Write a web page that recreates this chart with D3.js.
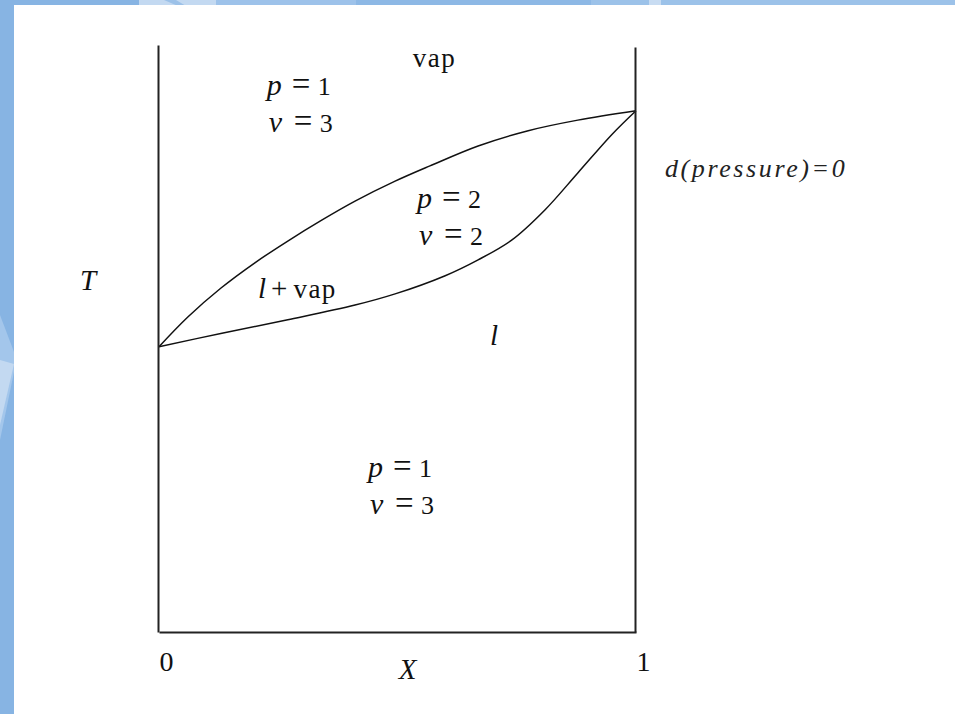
<!DOCTYPE html>
<html>
  <head>
    <meta charset="utf-8">
    <title>T-X phase diagram</title>
    <script type="text/javascript" src="https://d3js.org/d3.v7.min.js"></script>
    <style>
      body { margin: 0; background: #87b4e3; }
      svg { display: block; }
    </style>
  </head>
  <body>

    <div class="vis"></div>

    <script type="text/javascript">

      // composition ticks
      var xTicks = [0, 1];

      // vapour (upper) boundary: composition X, temperature T (0..1 of the axis)
      var vapX = [0, 0.061, 0.130, 0.201, 0.270, 0.342, 0.411, 0.495, 0.568, 0.669, 0.774, 0.878, 1];
      var vapT = [0.486, 0.537, 0.586, 0.629, 0.666, 0.702, 0.734, 0.768, 0.794, 0.828, 0.854, 0.872, 0.888];

      // liquid (lower) boundary
      var liqX = [0, 0.132, 0.270, 0.411, 0.495, 0.600, 0.669, 0.740, 0.809, 0.878, 0.950, 1];
      var liqT = [0.486, 0.509, 0.532, 0.557, 0.576, 0.607, 0.634, 0.668, 0.719, 0.782, 0.848, 0.888];

      // region labels (phases p, variance v)
      var regionNames = ['p', 'ν'];
      var regionX = [0.226, 0.541, 0.438];
      var regionT = [0.915, 0.722, 0.264];
      var regionP = ['1', '2', '1'];
      var regionV = ['3', '2', '3'];

      var w = 955;
      var h = 714;
      var margin = {top: 45, right: 319, bottom: 82, left: 159};
      var serif = "'Liberation Serif', 'Times New Roman', serif";

      var svg = d3.select('.vis')
        .append('svg')
        .attr('width', w)
        .attr('height', h);

      // slide background
      svg.append('rect').attr('width', w).attr('height', h).attr('fill', '#87b4e3');
      svg.append('rect').attr('x', 139).attr('y', 0).attr('width', 77).attr('height', 6).attr('fill', '#c3d9f1');
      svg.append('rect').attr('x', 216).attr('y', 0).attr('width', 140).attr('height', 6).attr('fill', '#9dc2ea');
      svg.append('rect').attr('x', 356).attr('y', 0).attr('width', 235).attr('height', 6).attr('fill', '#8db8e5');
      svg.append('rect').attr('x', 591).attr('y', 0).attr('width', 364).attr('height', 6).attr('fill', '#9cc2e9');
      svg.append('rect').attr('x', 649).attr('y', 0).attr('width', 12).attr('height', 6).attr('fill', '#c8dcf2');
      svg.append('polygon').attr('points', '164,0 176,0 186,6 178,6').attr('fill', '#9cc1e8');
      svg.append('polygon').attr('points', '0,315 14,352 14,372 0,440').attr('fill', '#a3c6eb');
      svg.append('polygon').attr('points', '0,360 14,364 0,425').attr('fill', '#c3d9f1');
      svg.append('rect').attr('x', 14).attr('y', 5).attr('width', w - 14).attr('height', h - 5).attr('fill', '#fff');

      var xscale = d3.scaleLinear()
        .domain([0, 1])
        .range([margin.left, w - margin.right]);

      var yscale = d3.scaleLinear()
        .domain([0, 1])
        .range([h - margin.bottom, margin.top]);

      var line = d3.line()
        .x(function(d){ return xscale(d[0]); })
        .y(function(d){ return yscale(d[1]); })
        .curve(d3.curveCatmullRom);

      var vapour = vapX.map(function(x, i){ return [x, vapT[i]]; });
      var liquid = liqX.map(function(x, i){ return [x, liqT[i]]; });

      svg.selectAll('path.phase')
        .data([vapour, liquid])
        .enter()
        .append('path')
        .attr('class', 'phase')
        .attr('d', line)
        .attr('fill', 'none')
        .attr('stroke', '#111')
        .attr('stroke-width', 1.5);

      // frame: left, right and bottom axes
      var yAxis = d3.axisLeft(yscale).tickValues([]).tickSizeOuter(0);
      var yAxisR = d3.axisRight(yscale.copy().range([h - margin.bottom, margin.top + 2])).tickValues([]).tickSizeOuter(0);
      var xAxis = d3.axisBottom(xscale).tickValues(xTicks).tickSize(0).tickSizeOuter(0).tickPadding(18)
        .tickFormat(d3.format('d'));

      svg.append('g')
        .attr('class', 'y axis')
        .attr('transform', 'translate(' + (margin.left - 1) + ',0)')
        .call(yAxis);

      svg.append('g')
        .attr('class', 'y axis')
        .attr('transform', 'translate(' + (w - margin.right - 1) + ',0)')
        .call(yAxisR);

      var gx = svg.append('g')
        .attr('class', 'x axis')
        .attr('transform', 'translate(0,' + (h - margin.bottom) + ')')
        .call(xAxis);

      svg.selectAll('.axis path').attr('stroke', '#222').attr('stroke-width', 2);
      gx.selectAll('text')
        .attr('text-anchor', 'start')
        .attr('dy', '0.75em')
        .style('font-family', serif)
        .style('font-size', '28px')
        .style('fill', '#111');

      // all text goes through this so the serif face is set inline
      function label(x, y, size, italic) {
        return svg.append('text')
          .attr('x', x)
          .attr('y', y)
          .style('font-family', serif)
          .style('font-size', size + 'px')
          .style('font-style', italic ? 'italic' : 'normal')
          .style('fill', '#111');
      }

      // region labels
      function eqLabel(x0, y0, name, val) {
        label(x0, y0, 30, true).text(name);
        label(x0 + 25, y0, 33, false).text('=');
        label(x0 + 51, y0, 26, false).text(val);
      }

      for (var i = 0; i < regionX.length; i++) {
        var px = xscale(regionX[i]);
        var py = yscale(regionT[i]);
        eqLabel(px, py, regionNames[0], regionP[i]);
        eqLabel(px + 2, py + 37, regionNames[1], regionV[i]);
      }

      label(xscale(0.532), yscale(0.9625), 27, false)
        .style('letter-spacing', '1.5px')
        .text('vap');

      var lv = label(xscale(0.2075), yscale(0.569), 27, false);
      lv.append('tspan').style('font-style', 'italic').style('font-size', '29px').text('l');
      lv.append('tspan').attr('dx', 5).style('font-size', '29px').text('+');
      lv.append('tspan').attr('dx', 6).style('letter-spacing', '1.5px').text('vap');

      label(xscale(0.694), yscale(0.489), 29, true).text('l');

      // axis titles
      label(margin.left - 79, yscale(0.583), 29, true).text('T');

      label(xscale(0.5) + 10, h - margin.bottom + 47, 29, true)
        .attr('text-anchor', 'middle')
        .text('X');

      label(w - margin.right + 29, yscale(0.7785) + 2, 26, true)
        .style('letter-spacing', '2.6px')
        .style('fill', '#222')
        .text('d(pressure)=0');

    </script>

  </body>
</html>
